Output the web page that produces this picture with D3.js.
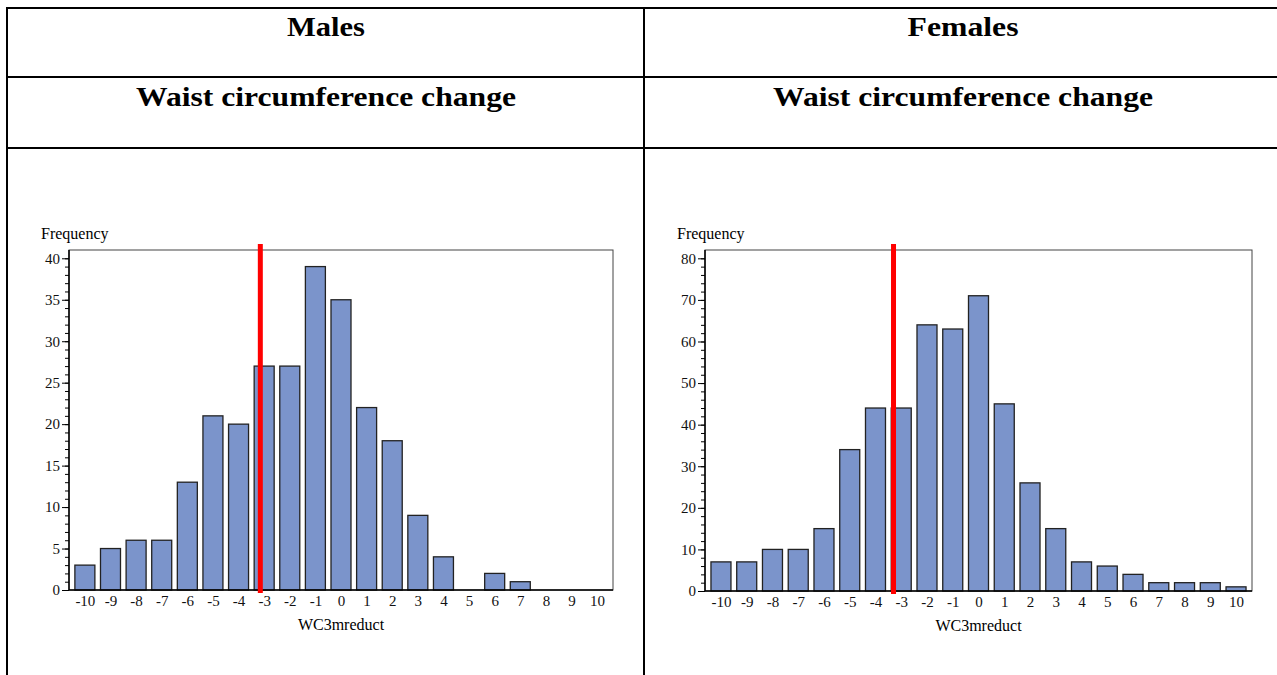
<!DOCTYPE html>
<html>
<head>
<meta charset="utf-8">
<script src="https://cdn.jsdelivr.net/npm/d3@7"></script>
<style>
  body { margin: 0; background: #fff; }
  svg { display: block; }
</style>
</head>
<body>
<svg id="page"></svg>
<script>
// valeurs
const bins = d3.range(-10, 11);
const males = [3, 5, 6, 6, 13, 21, 20, 27, 27, 39, 35, 22, 18, 9, 4, 0, 2, 1, 0, 0, 0];
const females = [7, 7, 10, 10, 15, 34, 44, 44, 64, 63, 71, 45, 26, 15, 7, 6, 4, 2, 2, 2, 1];
const maleTicks = [0, 5, 10, 15, 20, 25, 30, 35, 40];
const femaleTicks = [0, 10, 20, 30, 40, 50, 60, 70, 80];
const refLine = [-3.15, -3.3];   // ligne rouge
const headers = ["Males", "Females"];
const subtitle = "Waist circumference change";

const W = 1277, H = 675;
const svg = d3.select("#page").attr("width", W).attr("height", H);
const serif = "'Liberation Serif', 'Times New Roman', serif";

// tableau
const colX = [7, 644, 1282];
const rowY = [8, 77, 148];
const grid = svg.append("g").attr("stroke", "#000").attr("stroke-width", 2);
colX.forEach(x => grid.append("line").attr("x1", x).attr("x2", x).attr("y1", rowY[0] - 1).attr("y2", H));
rowY.forEach(y => grid.append("line").attr("x1", colX[0] - 1).attr("x2", W).attr("y1", y).attr("y2", y));

const heads = svg.append("g")
  .attr("font-family", serif)
  .attr("font-weight", "bold")
  .attr("font-size", 27)
  .attr("text-anchor", "middle")
  .attr("fill", "#000");
const centers = [326, 963];
const headW = [78, 111];
headers.forEach((h, i) => {
  heads.append("text").attr("x", centers[i]).attr("y", 36).text(h)
    .attr("textLength", headW[i]).attr("lengthAdjust", "spacingAndGlyphs");
  heads.append("text").attr("x", centers[i]).attr("y", 106).text(subtitle)
    .attr("textLength", 380).attr("lengthAdjust", "spacingAndGlyphs");
});

function histo (opt) {
  const g = svg.append("g");
  const x = d3.scaleLinear().domain([-10.62, 10.62]).range([opt.left, opt.right]);
  const y = d3.scaleLinear().domain([0, opt.ymax]).range([opt.bottom, opt.top]);

  // cadre
  g.append("rect")
    .attr("x", opt.left).attr("y", opt.top)
    .attr("width", opt.right - opt.left).attr("height", opt.bottom - opt.top)
    .attr("fill", "none").attr("stroke", "#444").attr("stroke-width", 1);

  // barres
  const bw = 20;
  g.selectAll("rect.bar")
    .data(opt.values.map((v, i) => ({k: bins[i], v: v})).filter(d => d.v > 0))
    .enter().append("rect")
    .attr("class", "bar")
    .attr("x", d => x(d.k) - bw / 2)
    .attr("y", d => y(d.v))
    .attr("width", bw)
    .attr("height", d => y(0) - y(d.v))
    .attr("fill", "#7b94cb")
    .attr("stroke", "#222")
    .attr("stroke-width", 1.3);

  // axe y
  g.append("g")
    .attr("transform", `translate(${opt.left},0)`)
    .call(d3.axisLeft(y).tickValues(d3.range(0, opt.ymax, opt.minor)).tickSize(4).tickFormat(""))
    .call(a => a.select(".domain").remove());
  g.append("g")
    .attr("transform", `translate(${opt.left},0)`)
    .call(d3.axisLeft(y).tickValues(opt.ticks).tickSize(7).tickPadding(2))
    .call(a => a.select(".domain").attr("d", `M0,${opt.top}V${opt.bottom}`).attr("stroke-width", 1.5));

  // axe x
  g.append("g")
    .attr("transform", `translate(0,${opt.bottom})`)
    .call(d3.axisBottom(x).tickValues(bins).tickSize(0).tickPadding(5).tickFormat(d3.format("d")))
    .call(a => a.select(".domain").attr("d", `M${opt.left},0H${opt.right}`).attr("stroke-width", 1.5));

  g.selectAll(".tick text")
    .attr("font-family", serif).attr("font-size", 15).attr("fill", "#111")
    .text(function () { return this.textContent.replace("−", "-"); });

  g.append("text")
    .attr("x", opt.left - 28).attr("y", opt.top - 11)
    .attr("font-family", serif).attr("font-size", 16)
    .text("Frequency");
  g.append("text")
    .attr("x", (opt.left + opt.right) / 2).attr("y", opt.bottom + 40)
    .attr("text-anchor", "middle")
    .attr("font-family", serif).attr("font-size", 16)
    .text("WC3mreduct");

  // ligne rouge
  g.append("line")
    .attr("x1", x(opt.ref)).attr("x2", x(opt.ref))
    .attr("y1", opt.top - 6).attr("y2", opt.bottom + 3)
    .attr("stroke", "#ff0000").attr("stroke-width", 5);
}

histo({values: males, ticks: maleTicks, ymax: 41, minor: 1, ref: refLine[0],
  left: 69, right: 613, top: 250, bottom: 590});
histo({values: females, ticks: femaleTicks, ymax: 82, minor: 2, ref: refLine[1],
  left: 705, right: 1252, top: 250, bottom: 591});
</script>
</body>
</html>
